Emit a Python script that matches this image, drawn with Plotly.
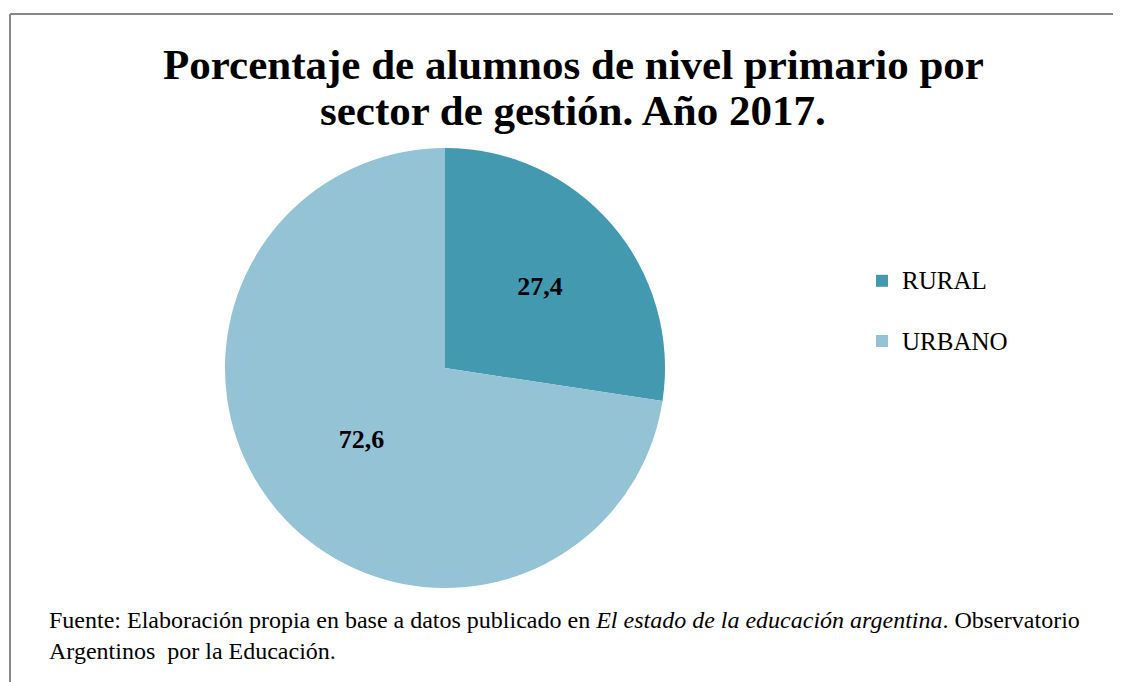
import plotly.graph_objects as go

categories = ["RURAL", "URBANO"]
values = [27.4, 72.6]
colors = ["#4299B0", "#93C3D5"]

title_lines = ["Porcentaje de alumnos de nivel primario por",
               "sector de gestión. Año 2017."]
source_text = ("Fuente: Elaboración propia en base a datos publicado en "
               "<i>El estado de la educación argentina</i>. Observatorio<br>"
               "Argentinos  por la Educación.")

W, H = 1121, 682
OFF = 8  # page body margin
serif = "Liberation Serif, Times New Roman, serif"


def px(x):
    return (x - OFF) / W


def py(y):
    return 1 - (y - OFF) / H


fig = go.Figure(go.Pie(
    labels=["<span style='font-size:25px'>" + c + "</span><br> " for c in categories],
    values=values,
    sort=False,
    direction="clockwise",
    rotation=0,
    marker=dict(colors=colors, line=dict(width=0)),
    texttemplate="%{value:.1f}",
    textposition="inside",
    insidetextorientation="horizontal",
    textfont=dict(family=serif, size=26, color="black", weight="bold"),
    domain=dict(x=[px(225), px(665)], y=[py(588), py(148)]),
    hoverinfo="skip",
))

annotations = []
for i, (line, yc) in enumerate(zip(title_lines, [64, 111])):
    annotations.append(dict(
        text="<b>" + line + "</b>",
        x=px(573), xanchor="center", xref="paper",
        y=py(yc), yanchor="middle", yref="paper",
        showarrow=False,
        font=dict(family=serif, size=43, color="black"),
    ))
annotations.append(dict(
    text=source_text,
    x=px(47), xanchor="left", xref="paper",
    y=py(635), yanchor="middle", yref="paper",
    showarrow=False, align="left",
    font=dict(family=serif, size=24, color="black"),
))

fig.update_layout(
    width=W, height=H,
    margin=dict(l=0, r=0, t=0, b=0),
    paper_bgcolor="white",
    plot_bgcolor="white",
    separators=",.",
    legend=dict(
        x=px(862), xanchor="left",
        y=py(260), yanchor="top",
        font=dict(family=serif, size=22, color="black"),
        valign="top",
        bgcolor="rgba(0,0,0,0)",
    ),
    showlegend=True,
    annotations=annotations,
    shapes=[
        dict(type="line", xref="paper", yref="paper",
             x0=px(10), x1=1, y0=py(14), y1=py(14),
             line=dict(color="#888888", width=2)),
        dict(type="line", xref="paper", yref="paper",
             x0=px(10), x1=px(10), y0=py(14), y1=0,
             line=dict(color="#888888", width=2)),
    ],
)

fig.write_html("out.html")
